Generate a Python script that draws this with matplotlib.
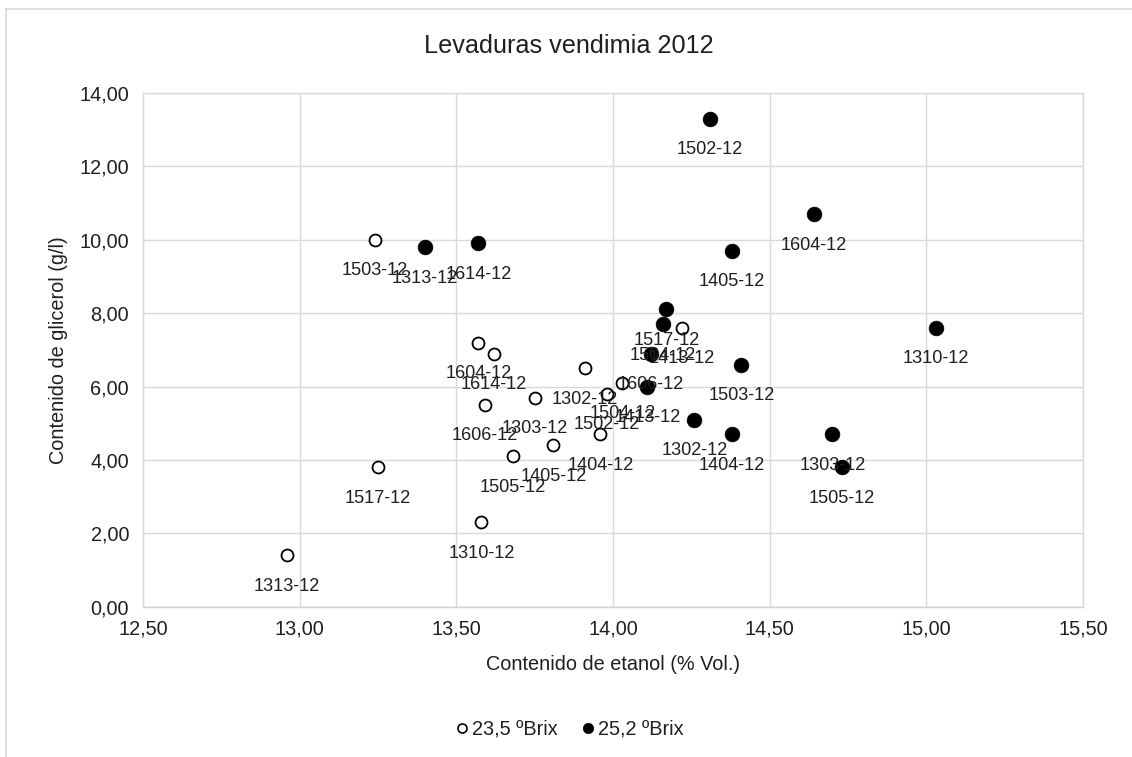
import matplotlib
matplotlib.use("Agg")
import matplotlib.pyplot as plt
from matplotlib.ticker import FuncFormatter, MultipleLocator
from matplotlib.lines import Line2D

plt.rcParams['font.family'] = ['Liberation Sans', 'DejaVu Sans']

# 23,5 ºBrix harvest
low_names = ["1313-12", "1517-12", "1503-12", "1310-12", "1604-12", "1614-12",
             "1606-12", "1303-12", "1505-12", "1405-12", "1302-12", "1404-12",
             "1502-12", "1504-12", "1413-12"]
low_ethanol = [12.96, 13.25, 13.24, 13.58, 13.57, 13.62,
               13.59, 13.75, 13.68, 13.81, 13.91, 13.96,
               13.98, 14.03, 14.22]
low_glycerol = [1.4, 3.8, 10.0, 2.3, 7.2, 6.9,
                5.5, 5.7, 4.1, 4.4, 6.5, 4.7,
                5.8, 6.1, 7.6]

# 25,2 ºBrix harvest
high_names = ["1313-12", "1614-12", "1517-12", "1504-12", "1606-12", "1413-12",
              "1302-12", "1503-12", "1404-12", "1303-12", "1505-12", "1502-12",
              "1604-12", "1405-12", "1310-12"]
high_ethanol = [13.40, 13.57, 14.17, 14.16, 14.12, 14.11,
                14.26, 14.41, 14.38, 14.70, 14.73, 14.31,
                14.64, 14.38, 15.03]
high_glycerol = [9.8, 9.9, 8.1, 7.7, 6.9, 6.0,
                 5.1, 6.6, 4.7, 4.7, 3.8, 13.3,
                 10.7, 9.7, 7.6]

series_labels = ["23,5 \u00baBrix", "25,2 \u00baBrix"]

W, H = 1132, 757
fig = plt.figure(figsize=(W / 100, H / 100), dpi=100)
fig.patch.set_facecolor("white")

# chart-area border (left and top edges)
border = "#d9d9d9"
fig.add_artist(Line2D([6 / W, 6 / W], [0, 1 - 9 / H], color=border, lw=1.2,
                      transform=fig.transFigure))
fig.add_artist(Line2D([6 / W, 1], [1 - 9 / H, 1 - 9 / H], color=border, lw=1.2,
                      transform=fig.transFigure))

left, right, top, bottom = 143, 1083, 93, 606.7
ax = fig.add_axes([left / W, 1 - bottom / H, (right - left) / W, (bottom - top) / H])

ax.set_xlim(12.5, 15.5)
ax.set_ylim(0, 14)
ax.xaxis.set_major_locator(MultipleLocator(0.5))
ax.yaxis.set_major_locator(MultipleLocator(2))
comma = FuncFormatter(lambda v, p: f"{v:.2f}".replace(".", ","))
ax.xaxis.set_major_formatter(comma)
ax.yaxis.set_major_formatter(comma)

ax.grid(True, color="#d9d9d9", lw=1.0)
ax.set_axisbelow(True)
for s in ax.spines.values():
    s.set_color("#d9d9d9")
    s.set_linewidth(1.0)
ax.spines["bottom"].set_color("#d0d0d0")
ax.tick_params(length=0, labelsize=14.3, colors="#1f1f1f", pad=10)
ax.tick_params(axis="x", pad=9)

ax.plot(low_ethanol, low_glycerol, "o", ms=8.6, mfc="white", mec="black",
        mew=1.3, ls="none", label=series_labels[0], zorder=3)
ax.plot(high_ethanol, high_glycerol, "o", ms=10.6, mfc="black", mec="black",
        mew=0.5, ls="none", label=series_labels[1], zorder=3)

for names, xs, ys in ((low_names, low_ethanol, low_glycerol),
                      (high_names, high_ethanol, high_glycerol)):
    for n, x, y in zip(names, xs, ys):
        ax.annotate(n, (x, y), xytext=(0, -31), textcoords="offset pixels",
                    ha="center", va="center", fontsize=13.1, color="#1f1f1f",
                    zorder=4)

ax.set_xlabel("Contenido de etanol (% Vol.)", fontsize=14.3, color="#1f1f1f",
              labelpad=12)
ax.set_ylabel("Contenido de glicerol (g/l)", fontsize=14.3, color="#1f1f1f",
              labelpad=8)

fig.text(569 / W, 1 - 46 / H, "Levaduras vendimia 2012", ha="center",
         va="center", fontsize=18.2, color="#1f1f1f")

handles = [
    Line2D([], [], marker="o", ls="none", ms=6.5, mfc="white", mec="black", mew=1.2),
    Line2D([], [], marker="o", ls="none", ms=7.5, mfc="black", mec="black", mew=0.5),
]
fig.legend(handles, series_labels, loc="center", bbox_to_anchor=(570 / W, 1 - 729 / H),
           ncol=2, frameon=False, fontsize=14.3, handlelength=0.6,
           handletextpad=0.2, columnspacing=1.2, labelcolor="#1f1f1f")

fig.savefig("out.png", dpi=100)
